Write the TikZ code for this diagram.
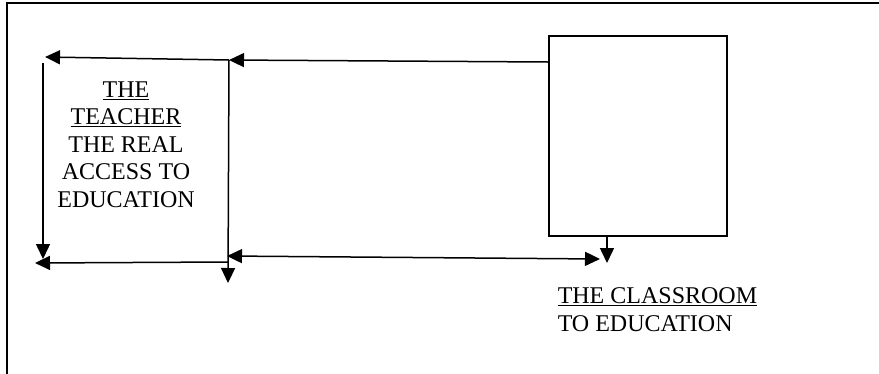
\documentclass[tikz,border=0pt]{standalone}
\usepackage{fontspec}
\setmainfont{Liberation Serif}
\usetikzlibrary{arrows.meta}
\begin{document}
\begin{tikzpicture}[x=1pt,y=-1pt, line width=1.5pt,
  tip/.tip={Triangle[length=15pt,width=14pt]},
  arr/.style={-tip},
  darr/.style={tip-tip},
  lbl/.style={font=\fontsize{24}{27.5}\selectfont, inner sep=0pt}]
\useasboundingbox (0,0) rectangle (879,373);
\draw[line width=2pt] (7,380) -- (7,3) -- (885,3);
\node[draw, line width=2pt, minimum width=178pt, minimum height=200pt, inner sep=0pt, anchor=north west] (room) at (548,35) {};
\coordinate (tr) at (229,60);
\coordinate (tl) at (45,57);
\coordinate (lt) at (43,63);
\coordinate (lb) at (43,259);
\coordinate (br) at (228,262);
\coordinate (bl) at (35,263);
\coordinate (rb) at (228,283);
\coordinate (dl) at (227,256);
\coordinate (dr) at (600,259);
\coordinate (rd) at (607,263);
\draw[arr] ([yshift=-27pt]room.north west) -- (tr);
\draw[arr] (tr) -- (tl);
\draw[arr] (lt) -- (lb);
\draw[arr] (br) -- (bl);
\draw[arr] (tr) -- (rb);
\draw[darr] (dl) -- (dr);
\draw[arr] ([xshift=59pt]room.south west) -- (rd);
\node[lbl, anchor=north, align=center] (teacher) at (126,81)
  {\underline{THE}\\\underline{TEACHER}\\THE REAL\\ACCESS TO\\EDUCATION};
\node[lbl, anchor=north west, align=left] (classroom) at (557,287)
  {\underline{THE CLASSROOM}\\TO EDUCATION};
\end{tikzpicture}
\end{document}
